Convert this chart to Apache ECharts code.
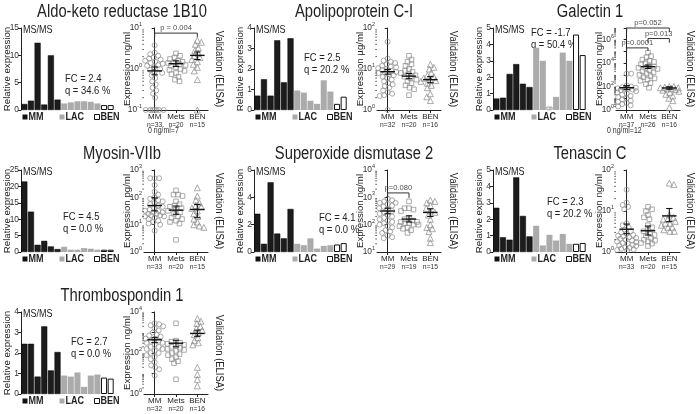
<!DOCTYPE html>
<html><head><meta charset="utf-8">
<script src="https://cdn.jsdelivr.net/npm/echarts@6/dist/echarts.min.js"></script>
<style>html,body{margin:0;padding:0;background:#fff}#c{width:696px;height:414px}</style>
</head><body><div id="c"></div>
<script>
// ---------------- DATA ----------------
const groups = ['MM', 'Mets', 'BEN'];
const barGroups = ['MM', 'LAC', 'BEN'];

// Aldo-keto reductase 1B10
const akrBarMM = [1.1, 1.7, 12.3, 1.0, 10.0, 1.9];
const akrBarLAC = [1.2, 1.4, 1.6, 1.6, 1.5, 1.2];
const akrBarBEN = [0.9, 0.9];
const akrMM = [3.8, 2.5, 2.3, 2.1, 1.9, 1.8, 1.7, 1.6, 1.5, 1.4, 1.35, 1.25, 1.2, 1.1, 1.0, 0.95, 0.85, 0.8, 0.7, 0.6, 0.5, 0.42, 0.35, 0.3, 0.25, 0.2, 0.1, 0.1, 0.1, 0.1, 0.1, 0.1, 0.1];
const akrMets = [2.4, 2.1, 1.9, 1.75, 1.6, 1.5, 1.45, 1.4, 1.3, 1.25, 1.2, 1.1, 1.0, 0.95, 0.9, 0.8, 0.75, 0.65, 0.55, 0.5];
const akrBEN = [5.0, 4.5, 4.0, 3.3, 2.8, 2.4, 2.1, 1.9, 1.7, 1.5, 1.3, 1.1, 0.9, 0.55, 0.1];
const akrMean = [0.9, 1.35, 2.15];
const akrLo = [0.72, 1.15, 1.7];
const akrHi = [1.12, 1.58, 2.6];
const akrN = ['n=33', 'n=20', 'n=15'];
const akrBrackets = [[0, 2, 6.0, 7.5, 'p = 0.004']];

// Apolipoprotein C-I
const apoBarMM = [0.7, 1.5, 0.7, 3.4, 1.35, 3.5];
const apoBarLAC = [0.95, 0.85, 0.45, 0.3, 1.45, 0.9];
const apoBarBEN = [0.3, 0.65];
const apoMM = [46, 18, 16, 15, 14, 13, 12, 11.5, 11, 10.5, 10, 9.5, 9, 8.5, 8, 8, 7.5, 7, 6.5, 6, 5.5, 5, 4.5, 4.2, 3.8, 3.5, 3.0, 2.7, 2.5, 2.3, 2.2, 1.0];
const apoMets = [21, 17, 15, 13, 12, 10, 9, 8.5, 8, 7.5, 7, 6.5, 6, 5.5, 5, 4.5, 4, 3.5, 3.2, 2.3];
const apoBEN = [13, 11, 10, 8, 7, 6.5, 6, 5.5, 5.2, 5, 4.5, 4, 3.5, 2.5, 2.1, 1.7];
const apoMean = [8.6, 6.7, 5.5];
const apoLo = [7.5, 5.8, 4.6];
const apoHi = [9.8, 7.8, 6.5];
const apoN = ['n=32', 'n=20', 'n=16'];
const apoBrackets = [];

// Galectin 1
const galBarMM = [0.7, 0.75, 2.2, 2.8, 1.6, 1.4];
const galBarLAC = [3.8, 3.0, 0.2, 0.8, 3.5, 3.0];
const galBarBEN = [4.6, 3.35];
const galHatchedLAC = 2;
const galMM = [1260, 1260, 126, 100, 89, 79, 71, 63, 63, 56, 50, 40, 32, 25, 20, 16, 12.6, 10, 8, 6.3, 5, 4, 3.2, 2.5, 2];
const galMets = [79000, 40000, 32000, 20000, 16000, 12600, 10000, 7900, 6300, 5000, 4000, 4000, 3200, 2500, 2000, 1600, 1260, 1000, 790, 630, 500, 400, 320, 200, 160, 80];
const galBEN = [100, 100, 89, 79, 79, 71, 63, 56, 50, 40, 32, 22, 16, 10, 6.3, 1.6];
const galMean = [80, 5000, 76];
const galLo = [55, 3500, 60];
const galHi = [120, 7000, 95];
const galN = ['n=37', 'n=26', 'n=16'];
const galBrackets = [[0, 2, 4.5e6, 1e7, 'p=0.052'], [1, 2, 5.6e5, 1.26e6, 'p=0.013'], [0, 1, 1.1e5, 2.0e5, 'p=0.0001']];

// Myosin-VIIb
const myoBarMM = [21.5, 12.3, 2.2, 3.4, 1.7, 0.9];
const myoBarLAC = [1.6, 0.7, 0.7, 1.2, 1.0, 0.7];
const myoBarBEN = [0.7, 0.7];
const myoMM = [500, 500, 500, 280, 160, 126, 100, 89, 79, 71, 63, 56, 50, 45, 40, 35, 32, 32, 28, 28, 25, 25, 22, 22, 20, 20, 18, 16, 14, 12.6, 11, 10, 6];
const myoMets = [178, 126, 126, 112, 71, 56, 50, 45, 40, 35, 32, 28, 25, 20, 18, 16, 14, 12.6, 11, 2.8];
const myoBEN = [224, 112, 79, 63, 50, 45, 40, 32, 25, 20, 16, 12.6, 10, 9, 8];
const myoMean = [50, 34, 36];
const myoLo = [32, 24, 18];
const myoHi = [95, 48, 55];
const myoN = ['n=33', 'n=20', 'n=15'];
const myoBrackets = [];

// Superoxide dismutase 2
const sodBarMM = [2.8, 0.6, 5.1, 1.35, 1.0, 3.15];
const sodBarLAC = [0.6, 0.5, 1.0, 0.25, 0.45, 0.5];
const sodBarBEN = [0.55, 0.65];
const sodMM = [890, 790, 710, 630, 630, 560, 500, 450, 400, 355, 316, 282, 251, 224, 200, 178, 158, 141, 126, 112, 100, 89, 79, 63, 56, 50, 40, 35, 32];
const sodMets = [710, 400, 400, 355, 316, 178, 158, 141, 126, 126, 112, 112, 100, 100, 89, 79, 71, 63, 50];
const sodBEN = [790, 710, 630, 500, 400, 316, 282, 224, 158, 100, 79, 71, 56, 32, 22];
const sodMean = [316, 160, 280];
const sodLo = [250, 125, 200];
const sodHi = [400, 210, 380];
const sodN = ['n=29', 'n=19', 'n=15'];
const sodBrackets = [[0, 1, 950, 1450, 'p=0.080']];

// Tenascin C
const tncBarMM = [2.7, 0.9, 0.75, 4.55, 2.2, 0.95];
const tncBarLAC = [1.6, 0.4, 1.05, 0.7, 1.1, 0.5];
const tncBarBEN = [0.5, 0.55];
const tncMM = [33, 16, 14, 12.6, 11, 5, 4.5, 4, 3.5, 3.2, 3, 2.8, 2.6, 2.5, 2.4, 2.3, 2.2, 2.1, 2.0, 1.9, 1.8, 1.75, 1.66, 1.6, 1.5, 1.45, 1.4, 1.3, 1.26, 1.2, 1.15, 1.12, 1.1];
const tncMets = [12.6, 11, 10, 8, 7, 6.3, 4.5, 4, 3.5, 3.2, 2.8, 2.6, 2.5, 2.2, 2, 1.9, 1.8, 1.66, 1.6, 1.4];
const tncBEN = [48, 44, 8, 7, 6.3, 6.3, 5.6, 5, 5, 4.5, 4, 4, 3.5, 3.2, 3.2];
const tncMean = [3.6, 3.3, 7.6];
const tncLo = [2.8, 2.6, 5.5];
const tncHi = [4.8, 4.3, 11.5];
const tncN = ['n=33', 'n=20', 'n=15'];
const tncBrackets = [];

// Thrombospondin 1
const thbsBarMM = [2.45, 2.45, 0.85, 3.3, 1.15, 2.05];
const thbsBarLAC = [0.9, 0.85, 1.05, 0.35, 0.9, 0.95];
const thbsBarBEN = [0.8, 0.75];
const thbsMM = [2800, 2500, 2240, 2000, 1580, 1260, 1000, 790, 710, 630, 500, 500, 400, 400, 316, 316, 251, 200, 200, 158, 158, 126, 100, 100, 79, 63, 50, 35, 25, 20, 16, 8];
const thbsMets = [2800, 400, 355, 316, 282, 251, 224, 200, 178, 158, 141, 126, 100, 89, 79, 63, 50, 40, 32, 5.2];
const thbsBEN = [4800, 3550, 2800, 2000, 1580, 1260, 1000, 790, 560, 400, 316, 251, 20, 9, 5.2, 2.5];
const thbsMean = [440, 300, 900];
const thbsLo = [320, 200, 650];
const thbsHi = [560, 420, 1300];
const thbsN = ['n=32', 'n=20', 'n=16'];
const thbsBrackets = [];

// ---------------- FONTS ----------------
function fontAvailable(name) {
  const ctx = document.createElement('canvas').getContext('2d');
  const s = 'mmmmmmmmmmlliWWWW0123 abcdefghij';
  for (const base of ['monospace', 'serif']) {
    ctx.font = '40px ' + base; const a = ctx.measureText(s).width;
    ctx.font = '40px "' + name + '", ' + base; const b = ctx.measureText(s).width;
    if (Math.abs(a - b) > 0.5) return true;
  }
  return false;
}
const NARROW = fontAvailable('Liberation Sans Narrow');
const FONT = NARROW ? '"Liberation Sans Narrow", "Liberation Sans", Arial, sans-serif' : '"Liberation Sans", Arial, sans-serif';
const AX = NARROW ? 1 : 0.84;   // axis text size factor
const GX = NARROW ? 1 : 0.82;   // horizontal squeeze for free texts

// ---------------- LAYOUT ----------------
const colX = [0, 232, 464];
const barAxisOff = [21, 22, 29];
const scatAxisOff = [144, 145, 152];
const valOff = [219, 221, 226];
const titleOff = [122, 122, 126];
const rowY = [0, 142, 284];
const PLOT_TOP = 28, PLOT_H = 82, BAR_W = 93, SC_W = 64;

const panels = [
  {title: 'Aldo-keto reductase 1B10', col: 0, row: 0, bar: [akrBarMM, akrBarLAC, akrBarBEN], bmax: 15, bint: 5,
   sc: [akrMM, akrMets, akrBEN], m: akrMean, lo: akrLo, hi: akrHi, lmin: -1, lmax: 1, skipOdd: false,
   unit: 'Expression ng/ml', n: akrN, fc: 'FC = 2.4', q: 'q = 34.6 %', fcX: 65, fcY: 79, br: akrBrackets,
   note: '0 ng/ml=7', noteX: 148},
  {title: 'Apolipoprotein C-I', col: 1, row: 0, bar: [apoBarMM, apoBarLAC, apoBarBEN], bmax: 4, bint: 1,
   sc: [apoMM, apoMets, apoBEN], m: apoMean, lo: apoLo, hi: apoHi, lmin: 0, lmax: 2, skipOdd: false,
   unit: 'Expression µg/ml', n: apoN, fc: 'FC = 2.5', q: 'q = 20.2 %', fcX: 72, fcY: 58, br: apoBrackets},
  {title: 'Galectin 1', col: 2, row: 0, bar: [galBarMM, galBarLAC, galBarBEN], bmax: 5, bint: 1, hatch: galHatchedLAC,
   sc: [galMM, galMets, galBEN], m: galMean, lo: galLo, hi: galHi, lmin: 0, lmax: 7, skipOdd: true,
   unit: 'Expression ng/ml', n: galN, fc: 'FC = -1.7', q: 'q = 50.4 %', fcX: 67, fcY: 33, br: galBrackets,
   note: '0 ng/ml=12', noteX: 607},
  {title: 'Myosin-VIIb', col: 0, row: 1, bar: [myoBarMM, myoBarLAC, myoBarBEN], bmax: 25, bint: 5,
   sc: [myoMM, myoMets, myoBEN], m: myoMean, lo: myoLo, hi: myoHi, lmin: 0, lmax: 3, skipOdd: false,
   unit: 'Expression pg/ml', n: myoN, fc: 'FC = 4.5', q: 'q = 0.0 %', fcX: 63, fcY: 75, br: myoBrackets},
  {title: 'Superoxide dismutase 2', col: 1, row: 1, bar: [sodBarMM, sodBarLAC, sodBarBEN], bmax: 6, bint: 2,
   sc: [sodMM, sodMets, sodBEN], m: sodMean, lo: sodLo, hi: sodHi, lmin: 1, lmax: 4, skipOdd: false,
   unit: 'Expression ng/ml', n: sodN, fc: 'FC = 4.1', q: 'q = 0.0 %', fcX: 87, fcY: 76, br: sodBrackets},
  {title: 'Tenascin C', col: 2, row: 1, bar: [tncBarMM, tncBarLAC, tncBarBEN], bmax: 5, bint: 1,
   sc: [tncMM, tncMets, tncBEN], m: tncMean, lo: tncLo, hi: tncHi, lmin: 0, lmax: 2, skipOdd: false,
   unit: 'Expression ng/ml', n: tncN, fc: 'FC = 2.3', q: 'q = 20.2 %', fcX: 83, fcY: 60, br: tncBrackets},
  {title: 'Thrombospondin 1', col: 0, row: 2, bar: [thbsBarMM, thbsBarLAC, thbsBarBEN], bmax: 4, bint: 1,
   sc: [thbsMM, thbsMets, thbsBEN], m: thbsMean, lo: thbsLo, hi: thbsHi, lmin: 0, lmax: 4, skipOdd: true,
   unit: 'Expression ng/ml', n: thbsN, fc: 'FC = 2.7', q: 'q = 0.0 %', fcX: 71, fcY: 58, br: thbsBrackets}
];

const barStyles = [
  {color: '#1c1c1c', borderColor: '#000', borderWidth: 0.5},
  {color: '#ababab'},
  {color: '#ffffff', borderColor: '#111', borderWidth: 1}
];
const hatchStyle = {color: '#ffffff', borderColor: '#b0b0b0', borderWidth: 0.8,
  decal: {symbol: 'rect', symbolSize: 1, color: '#9a9a9a', dashArrayX: [1, 0], dashArrayY: [1, 2], rotation: -Math.PI / 4}};
const symbols = ['circle', 'rect', 'triangle'];
const symSizes = [5, 4.6, 6];

// beeswarm-style horizontal layout of points (position only)
function swarm(vals, gi, lmin, lmax, hPx, catPx) {
  const placed = [], out = [];
  const d = 4.4, maxOff = catPx * 0.46;
  const ymin = Math.pow(10, lmin);
  vals.forEach((v, idx) => {
    const lv = Math.log10(Math.max(v, ymin));
    const py = (lv - lmin) / (lmax - lmin) * hPx;
    let found = false, off = 0, bestScore = -1, bestOff = 0;
    const sgn = idx % 2 ? 1 : -1;
    for (let k = 0; k <= 60 && !found; k++) {
      const cands = k === 0 ? [0] : [sgn * k * 0.5, -sgn * k * 0.5];
      for (const c of cands) {
        if (Math.abs(c) > maxOff) continue;
        let minD = Infinity;
        for (const p of placed) minD = Math.min(minD, Math.hypot(p[0] - c, p[1] - py));
        if (minD >= d) { off = c; found = true; break; }
        if (minD > bestScore) { bestScore = minD; bestOff = c; }
      }
    }
    if (!found) off = bestOff;
    placed.push([off, py]);
    out.push([gi + off / catPx, v]);
  });
  return out;
}

// minor tick positions of a log axis (2..9 x 10^e)
function minorTickValues(lmin, lmax) {
  const out = [];
  for (let e = lmin; e < lmax; e++) for (let k = 2; k <= 9; k++) out.push([k * Math.pow(10, e)]);
  return out;
}

const grid = [], xAxis = [], yAxis = [], series = [], graphic = [];
const txt = (x, y, text, size, extra, weight) => ({type: 'text', x, y, scaleX: GX, silent: true,
  style: Object.assign({text, font: (weight || 'normal') + ' ' + size + 'px ' + FONT, fill: '#222',
    align: 'left', verticalAlign: 'middle'}, extra || {})});

panels.forEach((p) => {
  const ox = colX[p.col], oy = rowY[p.row];
  const top = PLOT_TOP + oy, bottom = top + PLOT_H;
  const bl = ox + barAxisOff[p.col];
  const sl = ox + scatAxisOff[p.col];

  // ---- bar chart ----
  const gB = grid.length;
  grid.push({left: bl, top: top, width: BAR_W, height: PLOT_H});
  const barData = [];
  p.bar.forEach((arr, gi) => arr.forEach((v, k) => {
    const st = (gi === 1 && p.hatch === k) ? hatchStyle : barStyles[gi];
    barData.push({value: v, itemStyle: st});
  }));
  const xB = xAxis.length;
  xAxis.push({type: 'category', gridIndex: gB, data: barData.map((_, k) => k), show: false});
  const yB = yAxis.length;
  yAxis.push({type: 'value', gridIndex: gB, min: 0, max: p.bmax, interval: p.bint,
    name: 'Relative expression', nameLocation: 'middle', nameGap: 9, nameMoveOverlap: false,
    nameTextStyle: {fontFamily: FONT, fontSize: 11.5 * AX, color: '#222'},
    axisLine: {show: true, lineStyle: {color: '#222', width: 1}},
    axisTick: {show: true, length: 3, lineStyle: {color: '#222'}},
    axisLabel: {fontFamily: FONT, fontSize: 10 * AX, color: '#333', margin: 2},
    splitLine: {show: false}});
  series.push({type: 'bar', xAxisIndex: xB, yAxisIndex: yB, data: barData, barCategoryGap: '9%', silent: true});

  // ---- scatter chart ----
  const gS = grid.length;
  grid.push({left: sl, top: top, width: SC_W, height: PLOT_H});
  xAxis.push({type: 'category', gridIndex: gS, data: groups, boundaryGap: true,
    axisLine: {show: true, lineStyle: {color: '#222', width: 1}},
    axisTick: {show: true, alignWithLabel: true, length: 3, lineStyle: {color: '#222'}},
    axisLabel: {margin: 2, interval: 0, hideOverlap: false,
      formatter: (v, idx) => '{a|' + v + '}\n{b|' + p.n[idx] + '}',
      rich: {a: {fontFamily: FONT, fontSize: 9.5 * AX, lineHeight: 9, color: '#222'},
             b: {fontFamily: FONT, fontSize: 8 * AX, lineHeight: 8, color: '#333'}}}});
  const xV = xAxis.length;
  xAxis.push({type: 'value', gridIndex: gS, min: -0.5, max: 2.5, show: false});
  const yS = yAxis.length;
  yAxis.push({type: 'log', logBase: 10, gridIndex: gS, min: Math.pow(10, p.lmin), max: Math.pow(10, p.lmax),
    name: p.unit, nameLocation: 'middle', nameGap: 12, nameMoveOverlap: false,
    nameTextStyle: {fontFamily: FONT, fontSize: 11.5 * AX, color: '#222'},
    axisLine: {show: true, lineStyle: {color: '#222', width: 1}},
    axisTick: {show: true, length: 3, lineStyle: {color: '#222'}},
    splitLine: {show: false},
    axisLabel: {margin: 2, formatter: (v) => {
      const e = Math.round(Math.log10(v));
      if (p.skipOdd && e % 2 !== 0) return '';
      return '{b|10}{s|' + e + '}';
    }, rich: {b: {fontFamily: FONT, fontSize: 10 * AX, color: '#333', lineHeight: 12},
              s: {fontFamily: FONT, fontSize: 6.5 * AX, color: '#333', verticalAlign: 'top', lineHeight: 7}}}});

  // minor log ticks
  series.push({type: 'custom', xAxisIndex: xV, yAxisIndex: yS, silent: true, clip: false, z: 3,
    data: minorTickValues(p.lmin, p.lmax),
    renderItem: (params, api) => {
      const pt = api.coord([-0.5, api.value(0)]);
      return {type: 'line', shape: {x1: pt[0] - 1.8, y1: pt[1], x2: pt[0], y2: pt[1]}, style: {stroke: '#444', lineWidth: 0.8}};
    },
    encode: {y: 0}});

  const catPx = SC_W / 3;
  p.sc.forEach((vals, gi) => {
    series.push({type: 'scatter', xAxisIndex: xV, yAxisIndex: yS, silent: true,
      symbol: symbols[gi], symbolSize: symSizes[gi],
      itemStyle: {color: 'rgba(255,255,255,0)', borderColor: '#8a8a8a', borderWidth: 0.9},
      data: swarm(vals, gi, p.lmin, p.lmax, PLOT_H, catPx), z: 2});
  });
  // mean +/- SEM
  series.push({type: 'custom', xAxisIndex: xV, yAxisIndex: yS, silent: true, z: 4,
    data: groups.map((g, gi) => [gi, p.m[gi], p.lo[gi], p.hi[gi]]),
    renderItem: (params, api) => {
      const xi = api.value(0);
      const pm = api.coord([xi, api.value(1)]);
      const pl = api.coord([xi, api.value(2)]);
      const ph = api.coord([xi, api.value(3)]);
      const w = api.coord([xi + 0.5, api.value(1)])[0] - api.coord([xi - 0.5, api.value(1)])[0];
      const half = w * 0.34, cap = w * 0.15;
      const st = {stroke: '#111', lineWidth: 1.1};
      return {type: 'group', children: [
        {type: 'line', shape: {x1: pm[0] - half, y1: pm[1], x2: pm[0] + half, y2: pm[1]}, style: {stroke: '#111', lineWidth: 1.4}},
        {type: 'line', shape: {x1: pl[0], y1: pl[1], x2: ph[0], y2: ph[1]}, style: st},
        {type: 'line', shape: {x1: pl[0] - cap, y1: pl[1], x2: pl[0] + cap, y2: pl[1]}, style: st},
        {type: 'line', shape: {x1: ph[0] - cap, y1: ph[1], x2: ph[0] + cap, y2: ph[1]}, style: st}
      ]};
    }});
  // significance brackets
  p.br.forEach((b) => {
    series.push({type: 'line', xAxisIndex: xV, yAxisIndex: yS, silent: true, clip: false, z: 5,
      symbol: 'none', lineStyle: {color: '#333', width: 1},
      data: [[b[0], b[2]], [b[0], b[3]], [b[1], b[3]], [b[1], b[2]]]});
    series.push({type: 'scatter', xAxisIndex: xV, yAxisIndex: yS, silent: true, clip: false, z: 5,
      symbolSize: 0, data: [[(b[0] + b[1]) / 2, b[3]]],
      label: {show: true, position: 'top', distance: 1, formatter: b[4],
        fontFamily: FONT, fontSize: 9 * AX, color: '#222'}});
  });

  // ---- annotations ----
  graphic.push(txt(ox + titleOff[p.col], 12 + oy, p.title, 18, {align: 'center'}));
  graphic.push(txt(bl + 2, top + 2, 'MS/MS', 11));
  graphic.push(txt(ox + p.fcX, oy + p.fcY, p.fc, 11.5));
  graphic.push(txt(ox + p.fcX, oy + p.fcY + 11.5, p.q, 11.5));
  const legY = bottom + 7;
  const legOff = [1, 38, 73];
  barGroups.forEach((g, gi) => {
    const rs = gi === 2 ? {fill: '#fff', stroke: '#111', lineWidth: 1} : {fill: gi === 0 ? '#111' : '#ababab'};
    graphic.push({type: 'rect', silent: true, shape: {x: bl + legOff[gi] + 0.5, y: legY - 2.5, width: 5, height: 5}, style: rs});
    graphic.push(txt(bl + legOff[gi] + 6.5, legY, g, 11, null, 'bold'));
  });
  graphic.push({type: 'text', x: ox + valOff[p.col], y: top + PLOT_H / 2, rotation: -Math.PI / 2, scaleX: GX, silent: true,
    style: {text: 'Validation (ELISA)', font: '11.5px ' + FONT, fill: '#222', align: 'center', verticalAlign: 'middle'}});
  if (p.note) graphic.push(txt(p.noteX, bottom + 21, p.note, 8.5, {fill: '#333'}));
});

const chart = echarts.init(document.getElementById('c'), null, {renderer: 'canvas'});
chart.setOption({
  backgroundColor: '#fff',
  animation: false,
  grid, xAxis, yAxis, series, graphic
});
</script>
</body></html>
